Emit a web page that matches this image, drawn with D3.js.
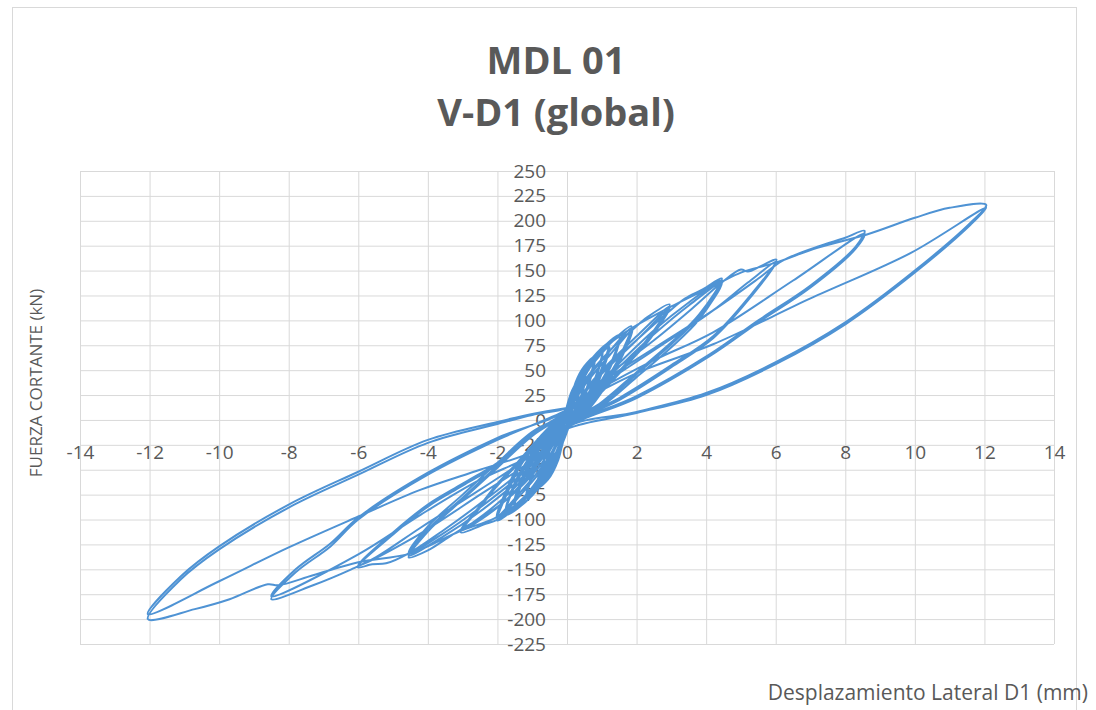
<!DOCTYPE html>
<html>
<head>
<meta charset="utf-8">
<script src="https://cdn.jsdelivr.net/npm/d3@7"></script>
<style>
  body { margin: 0; background: #fff; }
  text { font-family: "Open Sans", sans-serif; fill: #595959; }
</style>
</head>
<body>
<svg id="chart"></svg>
<script>
// tick values
const X_TICKS = [-14, -12, -10, -8, -6, -4, -2, 0, 2, 4, 6, 8, 10, 12, 14];
const Y_TICKS = [-225, -200, -175, -150, -125, -100, -75, -50, -25, 0, 25, 50, 75, 100, 125, 150, 175, 200, 225, 250];

// cycles, [displacement mm, force kN], in test order
const ciclo01 = [[0,2],[0.06,9],[0.1,12],[0.07,4],[0,-2],[-0.06,-9],[-0.12,-12],[-0.08,-4],[0,2],[0.06,10],[0.1,13],[0.07,5],[0,-2],[-0.06,-10],[-0.12,-13],[-0.08,-4],[0,2]];
const ciclo02 = [[0.1,16],[0.2,25],[0.16,12],[0.04,-3],[-0.1,-16],[-0.25,-25],[-0.18,-12],[-0.04,3],[0.1,17],[0.21,26],[0.16,11],[0.04,-3],[-0.1,-17],[-0.25,-26],[-0.18,-11],[-0.04,3]];
const ciclo03 = [[0.12,24],[0.35,38],[0.28,18],[0.08,-4],[-0.15,-24],[-0.4,-40],[-0.3,-18],[-0.08,4],[0.12,25],[0.36,39],[0.28,17],[0.08,-4],[-0.15,-25],[-0.4,-41],[-0.3,-17],[-0.08,4]];
const ciclo04 = [[0.15,30],[0.5,48],[0.42,26],[0.22,6],[0,-5],[-0.18,-30],[-0.6,-52],[-0.46,-26],[-0.22,-6],[0,5],
  [0.15,28],[0.5,47],[0.42,24],[0.22,5],[0,-5],[-0.18,-28],[-0.6,-51],[-0.46,-24],[-0.22,-5],[0,5],
  [0.15,27],[0.52,46],[0.4,21],[0.2,3],[0,-5],[-0.18,-27],[-0.6,-50],[-0.45,-21],[-0.2,-3],[0,5]];
const ciclo05 = [[0.25,38],[0.5,54],[0.78,63],[0.62,38],[0.35,12],[0,-6],[-0.25,-40],[-0.55,-60],[-0.85,-68],[-0.65,-40],[-0.35,-12],[0,6],
  [0.25,35],[0.5,52],[0.78,62],[0.62,36],[0.35,10],[0,-6],[-0.25,-38],[-0.55,-58],[-0.85,-67],[-0.65,-38],[-0.35,-10],[0,6],
  [0.25,33],[0.5,50],[0.8,61],[0.6,33],[0.33,9],[0,-6],[-0.25,-36],[-0.55,-56],[-0.86,-66],[-0.62,-35],[-0.33,-9],[0,6]];
const ciclo05b = [[0.3,40],[0.65,58],[1.0,70],[0.85,46],[0.55,22],[0.25,4],[0,-6],[-0.3,-42],[-0.7,-64],[-1.15,-78],[-0.95,-52],[-0.6,-26],[-0.25,-4],[0,6],
  [0.3,37],[0.65,56],[1.0,69],[0.85,44],[0.55,20],[0.25,3],[0,-6],[-0.3,-40],[-0.7,-62],[-1.15,-77],[-0.95,-50],[-0.6,-24],[-0.25,-3],[0,6],
  [0.3,34],[0.65,53],[1.02,68],[0.82,41],[0.52,17],[0.22,2],[0,-6],[-0.3,-37],[-0.7,-59],[-1.17,-76],[-0.92,-47],[-0.58,-21],[-0.22,-2],[0,6]];
const ciclo06 = [[0.35,40],[0.75,63],[1.2,77],[1.0,52],[0.7,27],[0.35,7],[0,-6],[-0.35,-42],[-0.9,-72],[-1.5,-89],[-1.25,-60],[-0.8,-30],[-0.35,-7],[0,7],
  [0.35,36],[0.75,60],[1.2,75],[1.0,50],[0.7,25],[0.35,6],[0,-6],[-0.35,-38],[-0.9,-68],[-1.5,-87],[-1.25,-58],[-0.8,-28],[-0.35,-5],[0,7],
  [0.35,33],[0.75,57],[1.22,73],[1.0,47],[0.7,22],[0.35,4],[0,-6],[-0.35,-35],[-0.9,-65],[-1.52,-85],[-1.25,-55],[-0.8,-25],[-0.35,-4],[0,7]];
const ciclo06b = [[0.4,42],[0.9,68],[1.5,85],[1.3,60],[0.9,34],[0.45,10],[0,-6],[-0.4,-44],[-1.0,-76],[-1.75,-95],[-1.5,-66],[-1.0,-36],[-0.45,-9],[0,7],
  [0.4,38],[0.9,64],[1.5,83],[1.3,57],[0.9,31],[0.45,8],[0,-6],[-0.4,-40],[-1.0,-72],[-1.75,-93],[-1.5,-63],[-1.0,-33],[-0.45,-7],[0,7]];
const ciclo07 = [[0.45,42],[1.0,67],[1.3,79],[1.85,94],[1.6,70],[1.2,44],[0.7,18],[0.3,2],[0,-6],[-0.45,-44],[-1.0,-72],[-1.5,-89],[-2.0,-101],[-1.7,-72],[-1.3,-44],[-0.7,-18],[-0.3,-2],[0,8],
  [0.55,40],[1.2,68],[1.85,92],[1.6,68],[1.2,42],[0.7,16],[0.3,1],[0,-6],[-0.55,-42],[-1.3,-74],[-2.0,-99],[-1.7,-70],[-1.3,-42],[-0.7,-16],[-0.3,-1],[0,8],
  [0.55,37],[1.2,64],[1.88,90],[1.6,65],[1.2,39],[0.7,14],[0.3,0],[0,-5],[-0.55,-39],[-1.3,-71],[-2.02,-97],[-1.7,-67],[-1.3,-39],[-0.7,-14],[-0.3,0],[0,8]];
const ciclo08 = [[0.6,44],[1.3,72],[1.9,91],[2.3,103],[2.95,116],[2.5,90],[2.0,68],[1.2,38],[0.5,12],[0,-5],[-0.6,-47],[-1.3,-80],[-2.0,-100],[-2.4,-105],[-3.05,-113],[-2.5,-88],[-2.0,-66],[-1.0,-30],[0,6],
  [0.8,42],[2.0,84],[2.95,114],[2.5,88],[2.0,66],[1.2,36],[0.5,10],[0,-5],[-1.0,-52],[-2.0,-88],[-3.05,-111],[-2.5,-86],[-2.0,-64],[-1.0,-28],[0,6],
  [0.8,39],[2.0,80],[2.95,112],[2.4,82],[1.8,58],[1.0,28],[0,-4],[-1.0,-49],[-2.0,-84],[-3.0,-109],[-2.4,-82],[-1.8,-58],[-1.0,-26],[0,6]];
const ciclo09 = [[0.8,42],[1.8,74],[2.9,108],[3.4,122],[3.9,131],[4.45,142],[3.8,106],[3.0,78],[2.0,48],[1.0,18],[0,-5],[-0.8,-47],[-1.8,-82],[-2.6,-101],[-3.1,-111],[-3.5,-120],[-4.0,-131],[-4.55,-138],[-4.0,-112],[-3.0,-80],[-2.0,-48],[-1.0,-16],[0,7],
  [1.0,40],[2.5,90],[3.5,118],[4.45,140],[3.8,104],[3.0,76],[2.0,46],[1.0,16],[0,-5],[-1.0,-48],[-2.5,-92],[-3.6,-118],[-4.55,-136],[-4.0,-110],[-3.0,-78],[-2.0,-46],[-1.0,-14],[0,7],
  [1.0,37],[2.5,86],[3.5,115],[4.45,138],[3.8,101],[3.0,73],[2.0,43],[1.0,14],[0,-5],[-1.0,-45],[-2.5,-88],[-3.6,-115],[-4.55,-134],[-4.0,-107],[-3.0,-75],[-2.0,-43],[-1.0,-12],[0,7]];
const ciclo10 = [[1.0,40],[2.5,80],[3.6,112],[4.45,138],[5.0,151],[5.2,149],[5.6,155],[6.02,161],[5.2,122],[4.2,84],[3.0,55],[1.5,22],[0,-5],[-1.0,-42],[-2.5,-84],[-3.6,-112],[-4.55,-134],[-5.2,-144],[-5.6,-145],[-6.02,-148],[-5.0,-115],[-4.0,-87],[-3.0,-66],[-2.0,-45],[-1.0,-15],[0,8],
  [1.0,35],[2.5,70],[4.2,110],[5.2,138],[6.02,159],[5.2,120],[4.2,82],[3.0,53],[1.5,20],[0,-5],[-1.0,-40],[-2.5,-75],[-4.5,-120],[-6.0,-146],[-5.0,-113],[-4.0,-85],[-3.0,-64],[-2.0,-43],[-1.0,-14],[0,9]];
const ciclo11 = [[1.0,38],[2.5,72],[4.2,110],[5.5,142],[6.2,160],[7.2,174],[8.0,183],[8.55,190],[8.3,174],[7.0,135],[5.5,100],[4.1,66],[2.0,24],[0,-6],[-1.0,-35],[-2.5,-70],[-4.2,-108],[-5.5,-138],[-6.2,-150],[-7.3,-166],[-8.5,-180],[-7.8,-153],[-6.8,-127],[-6.0,-100],[-4.0,-55],[-2.0,-20],[0,10],
  [1.0,32],[2.5,60],[4.2,88],[6.5,140],[8.55,187],[8.3,172],[7.0,133],[5.5,98],[4.1,64],[2.0,22],[0,-7],[-1.0,-35],[-2.5,-60],[-4.2,-95],[-6.0,-135],[-8.5,-177],[-7.8,-150],[-6.8,-124],[-6.0,-98],[-4.0,-53],[-2.0,-18],[0,11]];
const ciclo12 = [[0.3,35],[0.7,58],[1.2,76],[1.9,93],[3.0,114],[4.4,138],[5.0,148],[6.0,158],[7.2,173],[8.6,186],[10,203],[11,213],[12.05,216],[11.6,198],[10,150],[8,98],[6,58],[4,27],[2,8],[0,-8],
  [-0.5,-40],[-1.0,-68],[-1.5,-86],[-2.1,-99],[-3.1,-112],[-4.5,-134],[-6.0,-143],[-7.3,-156],[-8.3,-166],[-8.6,-165],[-9.7,-180],[-10.7,-190],[-12.05,-200],[-11.1,-160],[-10,-130],[-8,-88],[-6,-55],[-4,-23],[-2,-4],[-1,5],[0,12],
  [1.0,30],[2.2,50],[4.2,76],[7.0,122],[9.9,168],[12.05,213],[11.6,196],[10,148],[8,96],[6,56],[4,25],[2,7],[0,-9],
  [-1.0,-32],[-2.5,-50],[-4.2,-70],[-6.0,-97],[-8.0,-128],[-10,-162],[-12.05,-195],[-11.1,-157],[-10,-127],[-8,-85],[-6,-52],[-4,-20],[-2,-2],[-1,6],[0,12]];

const CICLOS = [ciclo01, ciclo02, ciclo03, ciclo04, ciclo05, ciclo05b, ciclo06, ciclo06b, ciclo07, ciclo08, ciclo09, ciclo10, ciclo11, ciclo12];

const WIDTH = 1096;
const HEIGHT = 710;
const PLOT = { left: 80, right: 1054, top: 171, bottom: 644 };
const LINE_COLOR = "#4f93d4";
const FONT = "Open Sans";

const svg = d3.select("#chart")
  .attr("width", WIDTH)
  .attr("height", HEIGHT)
  .style("background-color", "#fff");

// chart border
svg.append("rect")
  .attr("x", 12.5).attr("y", 7.5)
  .attr("width", 1064).attr("height", 720)
  .attr("fill", "none")
  .attr("stroke", "#d9d9d9");

const xScale = d3.scaleLinear().domain([-14, 14]).range([PLOT.left, PLOT.right]);
const yScale = d3.scaleLinear().domain([-225, 250]).range([PLOT.bottom, PLOT.top]);

// grid
const xGrid = d3.axisBottom(xScale).tickValues(X_TICKS).tickSize(-(PLOT.bottom - PLOT.top)).tickFormat("");
const yGrid = d3.axisLeft(yScale).tickValues(Y_TICKS).tickSize(-(PLOT.right - PLOT.left)).tickFormat("");

svg.append("g")
  .attr("transform", `translate(0, ${PLOT.bottom})`)
  .call(xGrid)
  .call((g) => g.select(".domain").remove())
  .call((g) => g.selectAll("line").attr("stroke", "#d9d9d9"));

svg.append("g")
  .attr("transform", `translate(${PLOT.left}, 0)`)
  .call(yGrid)
  .call((g) => g.select(".domain").remove())
  .call((g) => g.selectAll("line").attr("stroke", "#d9d9d9"));

// tick labels (axes cross at the origin), plain hyphen for negatives like Excel
const xAxis = d3.axisBottom(xScale).tickValues(X_TICKS).tickSize(0).tickPadding(26).tickFormat((d) => String(d));
const yAxis = d3.axisLeft(yScale).tickValues(Y_TICKS).tickSize(0).tickPadding(21).tickFormat((d) => String(d));

svg.append("g")
  .attr("transform", `translate(0, ${yScale(0)})`)
  .call(xAxis)
  .call((g) => g.select(".domain").remove())
  .call((g) => g.selectAll("text").style("font-family", FONT).style("font-size", "19px").attr("fill", "#595959"));

svg.append("g")
  .attr("transform", `translate(${xScale(0)}, 0)`)
  .call(yAxis)
  .call((g) => g.select(".domain").remove())
  .call((g) => g.selectAll("text").style("font-family", FONT).style("font-size", "19px").attr("fill", "#595959"));

// the series
const line = d3.line()
  .x((d) => xScale(d[0]))
  .y((d) => yScale(d[1]))
  .curve(d3.curveCatmullRom.alpha(0.5));

const puntos = [[0, 0]].concat(...CICLOS);

svg.append("path")
  .datum(puntos)
  .attr("fill", "none")
  .attr("stroke", LINE_COLOR)
  .attr("stroke-width", 2)
  .attr("stroke-linejoin", "round")
  .attr("d", line);

// titles
svg.append("text")
  .attr("x", 556).attr("y", 74)
  .attr("text-anchor", "middle")
  .style("font-size", "38px").style("font-weight", "bold")
  .text("MDL 01");

svg.append("text")
  .attr("x", 556).attr("y", 126)
  .attr("text-anchor", "middle")
  .style("font-size", "38px").style("font-weight", "bold")
  .text("V-D1 (global)");

svg.append("text")
  .attr("transform", "translate(42, 383) rotate(-90)")
  .attr("text-anchor", "middle")
  .style("font-size", "17px")
  .text("FUERZA CORTANTE (kN)");

svg.append("text")
  .attr("x", 1088).attr("y", 700)
  .attr("text-anchor", "end")
  .style("font-size", "21px")
  .text("Desplazamiento Lateral D1 (mm)");
</script>
</body>
</html>
